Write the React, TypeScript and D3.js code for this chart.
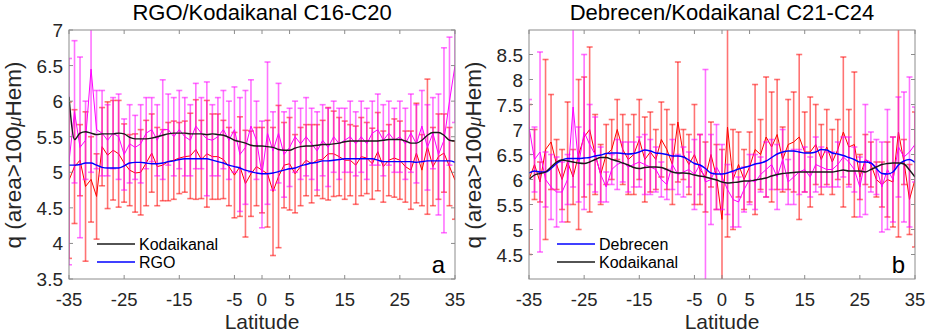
import React from "react";
import * as d3 from "d3";

// Latitudes -35..35 (1 degree steps)
const latitudes: number[] = [
  -35,-34,-33,-32,-31,-30,-29,-28,-27,-26,-25,-24,-23,-22,-21,-20,-19,-18,-17,-16,-15,-14,-13,-12,-11,-10,
  -9,-8,-7,-6,-5,-4,-3,-2,-1,0,1,2,3,4,5,6,7,8,9,10,11,12,13,14,15,16,17,18,19,20,21,22,23,24,25,26,27,28,29,30,31,32,33,34,35,
];
const xTicks: number[] = [-35, -25, -15, -5, 0, 5, 15, 25, 35];

// ---------- Panel a: RGO / Kodaikanal C16-C20 ----------
const aRedValues: number[] = [
  4.89,5.08,5.17,4.8,4.9,4.66,5.36,5.24,5.31,5.26,5.13,5.03,4.99,5.0,5.13,5.27,5.08,5.1,5.15,5.17,5.2,5.22,5.23,5.32,5.18,5.26,
  5.22,5.22,5.18,5.08,4.96,5.08,4.84,4.98,5.08,5.03,4.98,4.73,4.94,5.1,5.12,4.98,5.08,5.17,5.12,5.17,5.18,5.26,5.26,5.22,5.17,5.17,5.1,5.22,5.2,5.12,5.29,5.08,5.17,5.2,5.17,5.08,5.03,5.27,5.03,5.36,5.08,5.22,5.27,5.08,4.89,
];
const aRedErrors: number[] = [
  1.1,0.8,0.5,1.05,0.6,0.6,0.55,0.75,0.7,0.75,0.55,0.5,0.55,0.6,0.6,0.55,0.55,0.5,0.55,0.55,0.5,0.5,0.6,0.7,0.55,0.75,
  0.6,0.6,0.55,0.55,0.6,0.7,0.75,0.6,0.55,0.6,0.75,0.9,1.0,0.6,0.65,0.55,0.55,0.5,0.55,0.5,0.55,0.65,0.6,0.55,0.55,0.5,0.55,0.55,0.5,0.5,0.55,0.5,0.5,0.55,0.55,0.5,0.55,0.7,0.5,0.95,0.55,0.6,0.55,0.55,0.55,
];
const aMagValues: number[] = [
  5.15,5.85,5.35,5.45,6.45,5.6,5.55,5.45,5.55,5.5,5.25,5.4,5.35,5.4,5.55,5.6,5.45,5.6,5.6,5.5,5.6,5.5,5.45,5.65,5.55,5.47,
  5.45,5.5,5.6,5.45,5.6,5.25,5.35,5.65,5.45,4.97,5.55,5.3,5.55,5.25,5.35,5.5,5.4,5.5,5.4,5.3,5.45,5.35,5.5,5.4,5.45,5.5,5.4,5.5,5.4,5.55,5.6,5.45,5.55,5.45,5.5,5.4,5.55,5.4,5.65,5.35,5.55,5.25,5.45,6.0,6.5,
];
const aMagErrors: number[] = [
  1.45,1.0,1.27,0.55,1.45,0.55,0.6,0.5,0.5,0.6,0.5,0.55,0.45,0.55,0.5,0.45,0.5,0.7,0.5,0.55,0.55,0.55,0.5,0.6,0.5,0.8,
  0.5,0.55,0.55,0.55,0.6,0.8,0.8,0.65,0.55,0.75,1.0,0.55,0.7,0.6,0.55,0.5,0.5,0.55,0.5,0.55,0.5,0.55,0.5,0.5,0.45,0.5,0.45,0.5,0.5,0.45,0.5,0.5,0.45,0.45,0.5,0.5,0.55,0.55,0.5,0.6,0.5,0.85,1.3,0.9,0.8,
];
const aKodSmooth: number[] = [
  6.06,5.46,5.55,5.57,5.55,5.53,5.54,5.54,5.54,5.55,5.54,5.49,5.47,5.47,5.47,5.48,5.5,5.52,5.54,5.55,5.55,5.55,5.54,5.54,5.54,5.53,
  5.54,5.53,5.52,5.49,5.45,5.43,5.41,5.38,5.37,5.37,5.36,5.35,5.32,5.31,5.31,5.34,5.36,5.37,5.37,5.38,5.39,5.39,5.4,5.41,5.43,5.44,5.44,5.44,5.44,5.44,5.44,5.45,5.46,5.46,5.46,5.44,5.41,5.41,5.45,5.52,5.56,5.56,5.52,5.45,5.44,
];
const aRgoSmooth: number[] = [
  5.1,5.1,5.11,5.13,5.13,5.1,5.07,5.06,5.06,5.06,5.09,5.13,5.14,5.14,5.13,5.12,5.12,5.13,5.15,5.16,5.18,5.19,5.19,5.19,5.19,5.19,
  5.17,5.15,5.13,5.1,5.08,5.06,5.03,5.01,4.99,4.98,4.98,4.99,5.01,5.03,5.05,5.06,5.09,5.11,5.13,5.14,5.16,5.16,5.17,5.18,5.19,5.19,5.19,5.19,5.19,5.19,5.17,5.15,5.15,5.15,5.15,5.15,5.15,5.14,5.15,5.16,5.16,5.16,5.16,5.16,5.14,
];
const aYTicks: number[] = [3.5, 4, 4.5, 5, 5.5, 6, 6.5, 7];

// ---------- Panel b: Debrecen / Kodaikanal C21-C24 ----------
const bRedValues: number[] = [
  6.0,6.3,5.95,6.6,6.75,6.3,6.0,6.35,6.05,6.5,6.85,7.0,6.5,6.1,6.5,6.6,7.0,6.6,6.4,6.5,6.8,6.4,6.55,6.4,6.8,6.6,
  6.3,7.15,6.5,6.3,6.5,6.2,6.05,6.5,6.05,5.2,7.05,6.0,6.3,6.0,6.25,6.6,6.5,6.85,6.65,6.9,6.4,6.7,6.75,6.85,6.55,6.55,6.7,6.4,6.65,6.35,6.6,6.95,6.65,6.7,6.05,6.4,6.3,6.0,5.9,6.0,5.95,6.95,6.35,5.6,6.0,
];
const bRedErrors: number[] = [
  1.5,0.7,0.4,1.8,0.95,0.5,0.6,1.2,0.55,1.5,1.2,1.65,0.8,0.6,0.6,0.6,0.6,0.7,0.7,0.8,0.8,0.85,0.8,0.6,0.75,0.8,
  0.8,1.2,0.5,0.6,1.0,0.7,0.7,0.65,0.65,1.4,2.2,1.0,0.65,0.6,0.7,1.3,0.7,1.2,1.1,1.1,0.65,0.9,1.0,1.65,0.8,1.1,0.8,0.7,0.75,0.65,0.6,1.5,0.75,1.45,0.45,0.5,0.45,0.35,0.45,0.75,0.9,2.1,0.45,0.7,1.35,
];
const bMagValues: number[] = [
  7.05,6.4,6.55,6.0,5.85,5.75,5.75,6.0,7.45,6.3,6.95,6.7,6.5,6.1,5.85,6.2,6.3,6.35,6.25,6.3,6.35,6.3,6.25,6.2,6.0,5.9,
  6.3,6.1,6.15,6.2,6.1,6.3,5.95,6.0,6.25,6.05,5.8,5.6,5.55,5.8,6.0,5.95,6.1,6.2,6.3,6.05,6.4,5.95,6.05,6.15,6.2,6.05,6.3,6.25,6.2,6.2,6.3,6.45,6.35,6.2,5.85,6.4,6.35,6.25,5.85,6.2,6.0,6.65,6.45,6.55,6.7,
];
const bMagErrors: number[] = [
  0.55,0.65,2.0,0.55,0.65,0.7,0.6,0.5,1.6,0.75,1.55,0.8,0.75,0.55,0.3,0.3,0.5,0.4,0.5,0.45,0.5,0.6,0.55,0.45,0.35,0.3,
  0.5,0.4,0.5,0.35,0.7,0.6,2.25,0.9,0.85,0.65,0.5,0.55,0.5,0.45,0.5,0.55,0.35,0.55,0.5,0.65,0.6,0.45,0.55,0.45,0.45,0.4,0.55,0.4,0.35,0.35,0.45,0.4,0.5,0.45,0.6,1.1,0.6,0.55,0.9,1.2,0.85,1.0,1.3,1.5,0.75,
];
const bDebSmooth: number[] = [
  6.13,6.17,6.15,6.15,6.22,6.32,6.39,6.42,6.42,6.42,6.43,6.44,6.47,6.49,6.52,6.53,6.53,6.52,6.51,6.52,6.55,6.59,6.57,6.53,6.52,6.5,
  6.47,6.47,6.45,6.39,6.32,6.29,6.22,6.13,6.11,6.11,6.13,6.17,6.21,6.24,6.27,6.31,6.33,6.37,6.44,6.51,6.55,6.57,6.57,6.55,6.53,6.53,6.55,6.6,6.59,6.53,6.51,6.48,6.44,6.4,6.35,6.35,6.33,6.22,6.12,6.11,6.15,6.29,6.37,6.4,6.34,
];
const bKodSmooth: number[] = [
  6.0,6.09,6.12,6.15,6.25,6.35,6.39,6.37,6.35,6.33,6.32,6.35,6.4,6.44,6.44,6.4,6.37,6.33,6.29,6.24,6.22,6.24,6.25,6.25,6.24,6.2,
  6.15,6.13,6.13,6.12,6.09,6.07,6.05,6.02,5.99,5.95,5.93,5.94,5.95,5.97,5.97,5.99,6.01,6.03,6.07,6.1,6.12,6.13,6.14,6.15,6.15,6.15,6.15,6.15,6.15,6.15,6.17,6.19,6.17,6.17,6.17,6.15,6.2,6.25,6.3,6.32,6.33,6.33,6.31,6.19,6.05,
];
const bYTicks: number[] = [4.5, 5, 5.5, 6, 6.5, 7, 7.5, 8, 8.5];

const FONT = "'Liberation Sans', Arial, Helvetica, sans-serif";
const TXT = "#262626";
const AX = "#8c8c8c";

type Series = { values: number[]; errors: number[]; color: string; barColor: string };
type Smooth = { values: number[]; color: string; name: string };

type PanelProps = {
  id: string;
  left: number;
  title: string;
  yDomain: [number, number];
  yTicks: number[];
  raw: Series[];
  smooth: Smooth[];
  legend: Smooth[];
  letter: string;
};

const W = 386;
const TOP = 30;
const H = 249;

function fmt(v: number) {
  return Number.isInteger(v) ? String(v) : v.toFixed(1);
}

function Panel(p: PanelProps) {
  const x = d3.scaleLinear().domain([-35, 35]).range([p.left, p.left + W]);
  const y = d3.scaleLinear().domain(p.yDomain).range([TOP + H, TOP]);
  const line = d3
    .line<number>()
    .x((_, i) => x(latitudes[i]))
    .y((d) => y(d));
  const smoothLine = d3
    .line<number>()
    .x((_, i) => x(latitudes[i]))
    .y((d) => y(d))
    .curve(d3.curveMonotoneX);
  const clipId = `clip-${p.id}`;
  const tickLen = 4;
  return (
    <g>
      <defs>
        <clipPath id={clipId}>
          <rect x={p.left} y={TOP} width={W} height={H} />
        </clipPath>
      </defs>
      <g clipPath={`url(#${clipId})`}>
        {p.raw.map((s, si) => (
          <g key={si}>
            {s.values.map((v, i) => {
              const cx = x(latitudes[i]);
              const lo = y(v - s.errors[i]);
              const hi = y(v + s.errors[i]);
              return (
                <g key={i}>
                  <line x1={cx} x2={cx} y1={lo} y2={hi} stroke={s.barColor} strokeWidth={1.6} />
                  <line x1={cx - 3} x2={cx + 3} y1={lo} y2={lo} stroke={s.barColor} strokeWidth={1.6} />
                  <line x1={cx - 3} x2={cx + 3} y1={hi} y2={hi} stroke={s.barColor} strokeWidth={1.6} />
                </g>
              );
            })}
            <path d={line(s.values) || ""} fill="none" stroke={s.color} strokeWidth={1} />
          </g>
        ))}
        {p.smooth.map((s, si) => (
          <path key={si} d={smoothLine(s.values) || ""} fill="none" stroke={s.color} strokeWidth={1.4} />
        ))}
      </g>
      {/* box */}
      <rect x={p.left} y={TOP} width={W} height={H} fill="none" stroke={AX} strokeWidth={1} />
      {/* x ticks */}
      {xTicks.map((t) => (
        <g key={`x${t}`}>
          <line x1={x(t)} x2={x(t)} y1={TOP + H} y2={TOP + H - tickLen} stroke={AX} />
          <line x1={x(t)} x2={x(t)} y1={TOP} y2={TOP + tickLen} stroke={AX} />
          <text x={x(t)} y={306} textAnchor="middle" fontSize={18.5} fill={TXT} fontFamily={FONT}>
            {t}
          </text>
        </g>
      ))}
      {p.yTicks.map((t) => (
        <g key={`y${t}`}>
          <line x1={p.left} x2={p.left + tickLen} y1={y(t)} y2={y(t)} stroke={AX} />
          <line x1={p.left + W} x2={p.left + W - tickLen} y1={y(t)} y2={y(t)} stroke={AX} />
          <text x={p.left - 6} y={y(t) + 7} textAnchor="end" fontSize={19} fill={TXT} fontFamily={FONT}>
            {fmt(t)}
          </text>
        </g>
      ))}
      <text x={p.left + W / 2} y={20} textAnchor="middle" fontSize={22} fill="#000" fontFamily={FONT}>
        {p.title}
      </text>
      <text x={p.left + W / 2} y={329} textAnchor="middle" fontSize={21} fill={TXT} fontFamily={FONT}>
        Latitude
      </text>
      <text
        transform={`translate(${p.left - 48},155) rotate(-90)`}
        textAnchor="middle"
        fontSize={22.5}
        fill={TXT}
        fontFamily={FONT}
      >
        q (area&gt;100<tspan fontStyle="italic" fontSize={18}>μ</tspan>Hem)
      </text>
      {p.legend.map((s, i) => (
        <g key={`l${i}`}>
          <line
            x1={p.left + 28}
            x2={p.left + 66}
            y1={244 + i * 18}
            y2={244 + i * 18}
            stroke={s.color}
            strokeWidth={1.4}
          />
          <text x={p.left + 70} y={250 + i * 18} fontSize={16} fill="#000" fontFamily={FONT}>
            {s.name}
          </text>
        </g>
      ))}
      <text x={p.left + W - 10} y={273} textAnchor="end" fontSize={24} fill="#000" fontFamily={FONT}>
        {p.letter}
      </text>
    </g>
  );
}

export default function App() {
  const redA: Series = { values: aRedValues, errors: aRedErrors, color: "#ff0000", barColor: "rgba(255,0,0,0.55)" };
  const magA: Series = { values: aMagValues, errors: aMagErrors, color: "#ff00ff", barColor: "rgba(255,0,255,0.55)" };
  const redB: Series = { values: bRedValues, errors: bRedErrors, color: "#ff0000", barColor: "rgba(255,0,0,0.55)" };
  const magB: Series = { values: bMagValues, errors: bMagErrors, color: "#ff00ff", barColor: "rgba(255,0,255,0.55)" };
  const kodA: Smooth = { values: aKodSmooth, color: "#1a1a1a", name: "Kodaikanal" };
  const rgoA: Smooth = { values: aRgoSmooth, color: "#0000ff", name: "RGO" };
  const debB: Smooth = { values: bDebSmooth, color: "#0000ff", name: "Debrecen" };
  const kodB: Smooth = { values: bKodSmooth, color: "#1a1a1a", name: "Kodaikanal" };
  return (
    <svg
      width={930}
      height={336}
      style={{ position: "absolute", left: 0, top: 0, background: "#fff" }}
    >
      <rect width={930} height={336} fill="#fff" />
      <Panel
        id="a"
        left={69}
        title="RGO/Kodaikanal C16-C20"
        yDomain={[3.5, 7]}
        yTicks={aYTicks}
        raw={[redA, magA]}
        smooth={[kodA, rgoA]}
        legend={[kodA, rgoA]}
        letter="a"
      />
      <Panel
        id="b"
        left={529}
        title="Debrecen/Kodaikanal C21-C24"
        yDomain={[4.01, 8.99]}
        yTicks={bYTicks}
        raw={[redB, magB]}
        smooth={[debB, kodB]}
        legend={[debB, kodB]}
        letter="b"
      />
    </svg>
  );
}
